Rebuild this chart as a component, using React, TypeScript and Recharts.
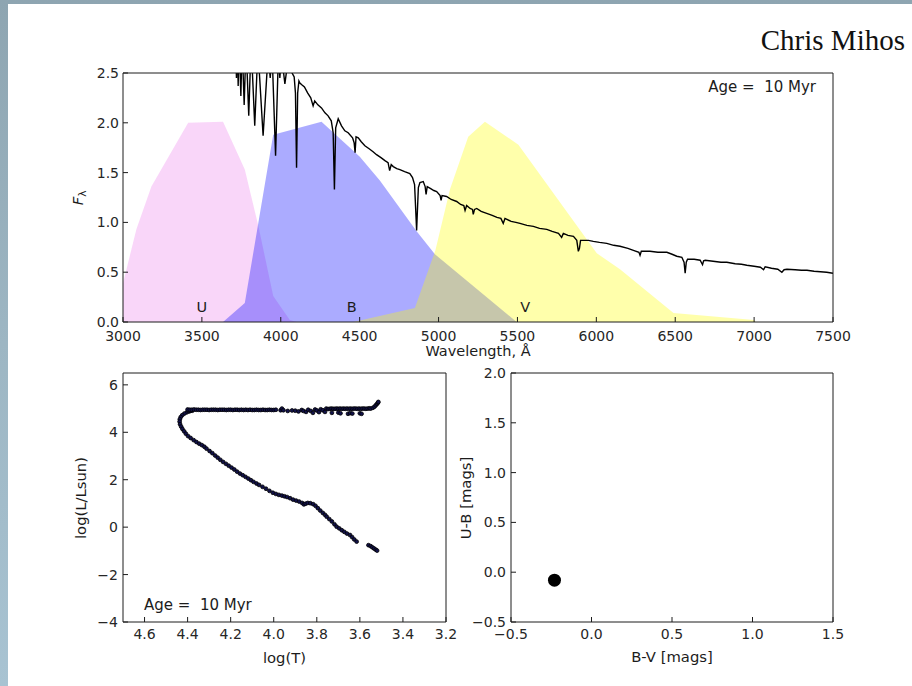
import React from "react";
import {
  Area,
  ComposedChart,
  Line,
  ReferenceDot,
  Scatter,
  XAxis,
  YAxis,
} from "recharts";

// ---- top panel: spectrum + UBV filters ----
const wavelengthTicks = [3000, 3500, 4000, 4500, 5000, 5500, 6000, 6500, 7000, 7500];
const fluxTicks = [0, 0.5, 1, 1.5, 2, 2.5];

// [wavelength, F]
const uFilter: [number, number][] = [
  [3000, 0.39], [3085, 0.93], [3180, 1.36], [3413, 2.0], [3634, 2.01],
  [3772, 1.53], [3860, 0.95], [3952, 0.26], [4057, 0.02], [4100, 0],
];
const bFilter: [number, number][] = [
  [3634, 0], [3772, 0.19], [3952, 1.88], [4258, 2.01], [4501, 1.66],
  [4628, 1.42], [4861, 0.91], [4977, 0.68], [5495, 0],
];
const vFilter: [number, number][] = [
  [4459, 0], [4850, 0.14], [4980, 0.72], [5072, 1.33], [5188, 1.86],
  [5294, 2.01], [5506, 1.78], [6003, 0.69], [6150, 0.53], [6489, 0.09],
  [7000, 0.02], [7010, 0],
];

const spectrum: [number, number][] = [
  [3700, 2.95], [3712, 2.9], [3719, 2.45], [3724, 2.85], [3730, 2.37], [3736, 2.85],
  [3747, 2.27], [3755, 2.8], [3768, 2.18], [3780, 2.8], [3797, 2.07], [3812, 2.8],
  [3835, 1.97], [3855, 2.75], [3888, 1.87], [3920, 2.7], [3933, 2.45], [3945, 2.7],
  [3967, 1.67], [3985, 2.7], [3994, 2.45], [4005, 2.68], [4026, 2.39], [4045, 2.62],
  [4065, 2.52], [4085, 2.46], [4093, 2.3], [4100, 1.55], [4107, 2.3], [4115, 2.42],
  [4121, 2.4], [4135, 2.38], [4150, 2.36], [4170, 2.3], [4190, 2.25], [4205, 2.17],
  [4215, 2.22], [4235, 2.18], [4258, 2.15], [4280, 2.1], [4300, 2.07], [4320, 2.02],
  [4332, 1.9], [4340, 1.33], [4348, 1.95], [4364, 2.04], [4385, 1.97], [4406, 1.92],
  [4427, 1.9], [4455, 1.85], [4465, 1.8], [4471, 1.7], [4477, 1.86], [4491, 1.85],
  [4510, 1.81], [4533, 1.77], [4560, 1.74], [4585, 1.71], [4607, 1.68], [4635, 1.65],
  [4660, 1.62], [4680, 1.6], [4690, 1.52], [4700, 1.58], [4713, 1.56], [4735, 1.54],
  [4755, 1.53], [4785, 1.51], [4818, 1.49], [4835, 1.45], [4848, 1.38], [4861, 0.92],
  [4872, 1.35], [4882, 1.4], [4903, 1.41], [4915, 1.36], [4921, 1.28], [4928, 1.36],
  [4950, 1.34], [4970, 1.32], [4988, 1.31], [5010, 1.27], [5016, 1.22], [5022, 1.27],
  [5051, 1.26], [5080, 1.23], [5115, 1.21], [5140, 1.18], [5160, 1.17], [5168, 1.12],
  [5178, 1.17], [5200, 1.14], [5215, 1.13], [5220, 1.08], [5228, 1.13], [5242, 1.14],
  [5270, 1.11], [5305, 1.09], [5340, 1.07], [5370, 1.05], [5395, 1.04], [5410, 0.99],
  [5421, 1.04], [5460, 1.01], [5490, 1.0], [5516, 0.99], [5560, 0.97], [5601, 0.96],
  [5640, 0.94], [5686, 0.93], [5720, 0.91], [5760, 0.89], [5780, 0.85], [5791, 0.89],
  [5820, 0.87], [5855, 0.86], [5876, 0.82], [5886, 0.71], [5893, 0.74], [5900, 0.82],
  [5908, 0.82], [5950, 0.82], [5981, 0.81], [6020, 0.8], [6066, 0.79], [6110, 0.77],
  [6150, 0.76], [6200, 0.74], [6235, 0.72], [6270, 0.7], [6277, 0.67], [6285, 0.71],
  [6298, 0.71], [6340, 0.71], [6390, 0.7], [6447, 0.7], [6480, 0.68], [6510, 0.66],
  [6542, 0.65], [6556, 0.6], [6563, 0.49], [6570, 0.6], [6578, 0.63], [6620, 0.63],
  [6658, 0.62], [6673, 0.575], [6680, 0.615], [6690, 0.62], [6740, 0.61], [6790, 0.6],
  [6827, 0.6], [6880, 0.585], [6920, 0.58], [6954, 0.57], [7000, 0.56], [7040, 0.55],
  [7060, 0.525], [7070, 0.555], [7110, 0.54], [7150, 0.53], [7176, 0.5], [7190, 0.525],
  [7208, 0.53], [7260, 0.525], [7300, 0.52], [7335, 0.52], [7380, 0.51], [7420, 0.505],
  [7460, 0.5], [7500, 0.49],
];

const bandNames = ["U", "B", "V"];
const bandCenters = [3500, 4450, 5550];
const bandLabelFlux = 0.1;

// ---- bottom left: HR diagram [logT, logL] ----
const logTTicks = [3.2, 3.4, 3.6, 3.8, 4.0, 4.2, 4.4, 4.6];
const logLTicks = [-4, -2, 0, 2, 4, 6];

const hrMainTrack: [number, number][] = [
  [4.378, 4.91], [4.392, 4.88], [4.404, 4.84], [4.415, 4.79], [4.425, 4.72], [4.432, 4.64],
  [4.436, 4.55], [4.437, 4.45], [4.435, 4.34], [4.43, 4.24], [4.424, 4.14], [4.416, 4.04],
  [4.408, 3.94], [4.398, 3.84], [4.386, 3.76], [4.372, 3.67], [4.359, 3.59], [4.346, 3.52],
  [4.334, 3.46], [4.322, 3.39], [4.312, 3.31], [4.298, 3.21], [4.285, 3.12], [4.272, 3.02],
  [4.26, 2.93], [4.248, 2.84], [4.235, 2.75], [4.222, 2.67], [4.209, 2.59], [4.196, 2.51],
  [4.183, 2.43], [4.17, 2.34], [4.157, 2.26], [4.144, 2.19], [4.131, 2.12], [4.118, 2.05],
  [4.106, 1.98], [4.094, 1.91], [4.08, 1.84], [4.068, 1.78], [4.052, 1.7], [4.036, 1.62],
  [4.02, 1.53], [4.004, 1.45], [3.99, 1.4], [3.976, 1.36], [3.962, 1.33], [3.95, 1.3],
  [3.938, 1.27], [3.924, 1.22], [3.91, 1.16], [3.896, 1.12], [3.882, 1.08], [3.868, 1.02],
  [3.86, 0.96], [3.852, 0.99], [3.842, 1.02], [3.83, 1.01], [3.817, 0.97], [3.806, 0.9],
  [3.795, 0.8], [3.784, 0.7], [3.772, 0.6], [3.762, 0.52], [3.754, 0.44], [3.742, 0.34],
  [3.73, 0.24], [3.718, 0.12], [3.708, 0.02], [3.696, -0.05], [3.684, -0.13], [3.672, -0.2],
  [3.66, -0.27], [3.646, -0.33], [3.636, -0.42], [3.626, -0.52], [3.615, -0.61],
  [3.56, -0.76], [3.55, -0.8], [3.542, -0.85], [3.534, -0.9], [3.526, -0.95], [3.52, -0.99],
];

const hrUpperBranch: [number, number][] = [
  [4.395, 4.9], [4.385, 4.91], [4.4, 4.96], [4.39, 4.95], [4.38, 4.95], [4.37, 4.96],
  [4.36, 4.95], [4.35, 4.95], [4.34, 4.94], [4.33, 4.95], [4.32, 4.95], [4.31, 4.95],
  [4.3, 4.94], [4.29, 4.95], [4.28, 4.95], [4.27, 4.95], [4.26, 4.94], [4.25, 4.95],
  [4.24, 4.95], [4.23, 4.95], [4.22, 4.94], [4.21, 4.95], [4.2, 4.95], [4.19, 4.94],
  [4.18, 4.95], [4.17, 4.95], [4.16, 4.94], [4.15, 4.95], [4.14, 4.94], [4.13, 4.95],
  [4.12, 4.94], [4.11, 4.95], [4.1, 4.94], [4.09, 4.94], [4.08, 4.95], [4.07, 4.94],
  [4.06, 4.94], [4.05, 4.95], [4.04, 4.94], [4.03, 4.94], [4.02, 4.95], [4.01, 4.94],
  [4.0, 4.94], [3.99, 4.95], [3.968, 4.93], [3.962, 5.0], [3.955, 4.93], [3.935, 4.9],
  [3.915, 4.92], [3.9, 4.91], [3.885, 4.88], [3.87, 4.94], [3.862, 4.9], [3.85, 4.86],
  [3.84, 4.95], [3.828, 4.9], [3.818, 4.82], [3.808, 4.96], [3.8, 4.92], [3.79, 4.85],
  [3.782, 4.97], [3.772, 4.93], [3.762, 4.86], [3.756, 5.0], [3.748, 4.98], [3.74, 4.99],
  [3.732, 5.0], [3.724, 4.99], [3.716, 4.99], [3.708, 5.0], [3.7, 4.99], [3.692, 5.0],
  [3.684, 4.99], [3.676, 5.0], [3.668, 4.99], [3.66, 5.0], [3.652, 4.99], [3.644, 5.0],
  [3.636, 4.99], [3.628, 5.0], [3.62, 5.0], [3.612, 4.99], [3.604, 5.0], [3.596, 4.99],
  [3.588, 5.0], [3.58, 5.0], [3.572, 4.99], [3.564, 5.0], [3.556, 5.01], [3.73, 4.82],
  [3.7, 4.83], [3.69, 4.8], [3.655, 4.78], [3.645, 4.81], [3.635, 4.79], [3.6, 4.8],
  [3.592, 4.78], [3.55, 5.0], [3.54, 5.03], [3.532, 5.08], [3.526, 5.14], [3.52, 5.2],
  [3.516, 5.25], [3.514, 5.28],
];

// ---- bottom right: colour-colour ----
const bvTicks = [-0.5, 0, 0.5, 1, 1.5];
const ubTicks = [-0.5, 0, 0.5, 1, 1.5, 2];
const colorBV = [-0.23];
const colorUB = [-0.08];

const ageLabel = "Age =  10 Myr";

const toPts = (arr: [number, number][]) => arr.map(([x, y]) => ({ x, y }));

const FONT = "'DejaVu Sans', sans-serif";
const INK = "#1c1c1c";
const tickStyle = { fontSize: 14, fontFamily: FONT, fill: "#262626" };
const minus = (s: string) => s.replace("-", "\u2212");
const fmt1 = (v: number) => minus(v.toFixed(1));
const fmt0 = (v: number) => minus(String(v));

const HrDot = (p: any) => (
  <circle cx={p.cx} cy={p.cy} r={1.9} fill="#12124a" stroke="#000" strokeWidth={0.8} />
);
const BigDot = (p: any) => <circle cx={p.cx} cy={p.cy} r={6.5} fill="#000" />;

export default function App() {
  const uPts = toPts(uFilter);
  const bPts = toPts(bFilter);
  const vPts = toPts(vFilter);
  const specPts = toPts(spectrum);
  const hrPts = toPts([...hrMainTrack, ...hrUpperBranch]);
  const ccPts = colorBV.map((x, i) => ({ x, y: colorUB[i] }));

  return (
    <div
      style={{
        position: "absolute",
        left: 0,
        top: 0,
        width: 912,
        height: 686,
        overflow: "hidden",
        background: "linear-gradient(180deg, #8ea5b1 0%, #9db6c3 50%, #a8c3d2 100%)",
      }}
    >
      <div style={{ position: "absolute", left: 8, top: 4, width: 904, height: 682, background: "#fff" }} />

      <div style={{ position: "absolute", left: 0, top: 0 }}>
        <ComposedChart width={912} height={350} margin={{ top: 72, right: 78, bottom: 0, left: 83 }}>
          <XAxis
            dataKey="x" type="number" domain={[3000, 7500]} ticks={wavelengthTicks} interval={0}
            allowDataOverflow height={28} tickSize={-5} tickMargin={14} stroke={INK} tick={tickStyle}
          />
          <XAxis
            xAxisId="top" orientation="top" type="number" domain={[3000, 7500]} ticks={wavelengthTicks}
            interval={0} allowDataOverflow height={1} tickSize={-5} tick={false} stroke={INK}
          />
          <YAxis
            type="number" domain={[0, 2.5]} ticks={fluxTicks} interval={0} allowDataOverflow width={40}
            tickSize={-5} tickMargin={9} stroke={INK} tick={tickStyle} tickFormatter={fmt1}
          />
          <YAxis
            yAxisId="right" orientation="right" type="number" domain={[0, 2.5]} ticks={fluxTicks}
            interval={0} allowDataOverflow width={1} tickSize={-5} tick={false} stroke={INK}
          />
          <Area data={uPts} dataKey="y" type="linear" fill="#ee82ee" fillOpacity={0.33} stroke="none" activeDot={false} isAnimationActive={false} />
          <Area data={bPts} dataKey="y" type="linear" fill="#0000ff" fillOpacity={0.33} stroke="none" activeDot={false} isAnimationActive={false} />
          <Area data={vPts} dataKey="y" type="linear" fill="#ffff00" fillOpacity={0.33} stroke="none" activeDot={false} isAnimationActive={false} />
          <Line data={specPts} dataKey="y" type="linear" stroke="#000" strokeWidth={1.4} dot={false} activeDot={false} isAnimationActive={false} />
          {bandNames.map((name, i) => (
            <ReferenceDot
              key={name}
              x={bandCenters[i]}
              y={bandLabelFlux}
              r={0}
              shape={(p: any) => (
                <text x={p.cx} y={p.cy} textAnchor="middle" fontFamily={FONT} fontSize={14.5} fill={INK}>
                  {name}
                </text>
              )}
            />
          ))}
        </ComposedChart>
      </div>

      <div style={{ position: "absolute", left: 0, top: 350 }}>
        <ComposedChart width={470} height={330} margin={{ top: 22, right: 23, bottom: 28, left: 83 }}>
          <XAxis
            dataKey="x" type="number" domain={[3.2, 4.7]} reversed ticks={logTTicks} interval={0}
            allowDataOverflow height={30} tickSize={-5} tickMargin={12} stroke={INK} tick={tickStyle}
            tickFormatter={fmt1}
          />
          <XAxis
            xAxisId="top" orientation="top" type="number" domain={[3.2, 4.7]} reversed ticks={logTTicks}
            interval={0} allowDataOverflow height={1} tickSize={-5} tick={false} stroke={INK}
          />
          <YAxis
            dataKey="y" type="number" domain={[-4, 6.5]} ticks={logLTicks} interval={0} allowDataOverflow
            width={40} tickSize={-5} tickMargin={10} stroke={INK} tick={tickStyle} tickFormatter={fmt0}
          />
          <YAxis
            yAxisId="right" orientation="right" type="number" domain={[-4, 6.5]} ticks={logLTicks}
            interval={0} allowDataOverflow width={1} tickSize={-5} tick={false} stroke={INK}
          />
          <Scatter data={hrPts} shape={HrDot} isAnimationActive={false} />
        </ComposedChart>
      </div>

      <div style={{ position: "absolute", left: 470, top: 350 }}>
        <ComposedChart width={442} height={330} margin={{ top: 22, right: 78, bottom: 28, left: 11 }}>
          <XAxis
            dataKey="x" type="number" domain={[-0.5, 1.5]} ticks={bvTicks} interval={0} allowDataOverflow
            height={30} tickSize={-5} tickMargin={12} stroke={INK} tick={tickStyle} tickFormatter={fmt1}
          />
          <XAxis
            xAxisId="top" orientation="top" type="number" domain={[-0.5, 1.5]} ticks={bvTicks}
            interval={0} allowDataOverflow height={1} tickSize={-5} tick={false} stroke={INK}
          />
          <YAxis
            dataKey="y" type="number" domain={[-0.5, 2]} ticks={ubTicks} interval={0} allowDataOverflow
            width={30} tickSize={-5} tickMargin={10} stroke={INK} tick={tickStyle} tickFormatter={fmt1}
          />
          <YAxis
            yAxisId="right" orientation="right" type="number" domain={[-0.5, 2]} ticks={ubTicks}
            interval={0} allowDataOverflow width={1} tickSize={-5} tick={false} stroke={INK}
          />
          <Scatter data={ccPts} shape={BigDot} isAnimationActive={false} />
        </ComposedChart>
      </div>

      <svg
        width={912}
        height={686}
        style={{ position: "absolute", left: 0, top: 0, pointerEvents: "none" }}
      >
        <text x={905} y={50} textAnchor="end" fontFamily="'Liberation Serif', 'Times New Roman', serif" fontSize={29} fill="#111">
          Chris Mihos
        </text>
        <g fontFamily={FONT} fill={INK}>
          <text x={816} y={92} textAnchor="end" fontSize={15} style={{ whiteSpace: "pre" }}>
            {ageLabel}
          </text>
          <text x={144} y={610} fontSize={15} style={{ whiteSpace: "pre" }}>
            {ageLabel}
          </text>
          <text x={478} y={356} textAnchor="middle" fontSize={14.5}>
            Wavelength, Å
          </text>
          <text x={284.5} y={663} textAnchor="middle" fontSize={14.8}>
            log(T)
          </text>
          <text x={672} y={662} textAnchor="middle" fontSize={14.8}>
            B-V [mags]
          </text>
          <text transform="translate(83,198) rotate(-90)" textAnchor="middle" fontSize={14.8}>
            <tspan fontStyle="italic">F</tspan>
            <tspan fontSize={10.5} dy={3}>λ</tspan>
          </text>
          <text transform="translate(86,498) rotate(-90)" textAnchor="middle" fontSize={14.8}>
            log(L/Lsun)
          </text>
          <text transform="translate(471,498) rotate(-90)" textAnchor="middle" fontSize={14.8}>
            U-B [mags]
          </text>
        </g>
      </svg>
    </div>
  );
}
